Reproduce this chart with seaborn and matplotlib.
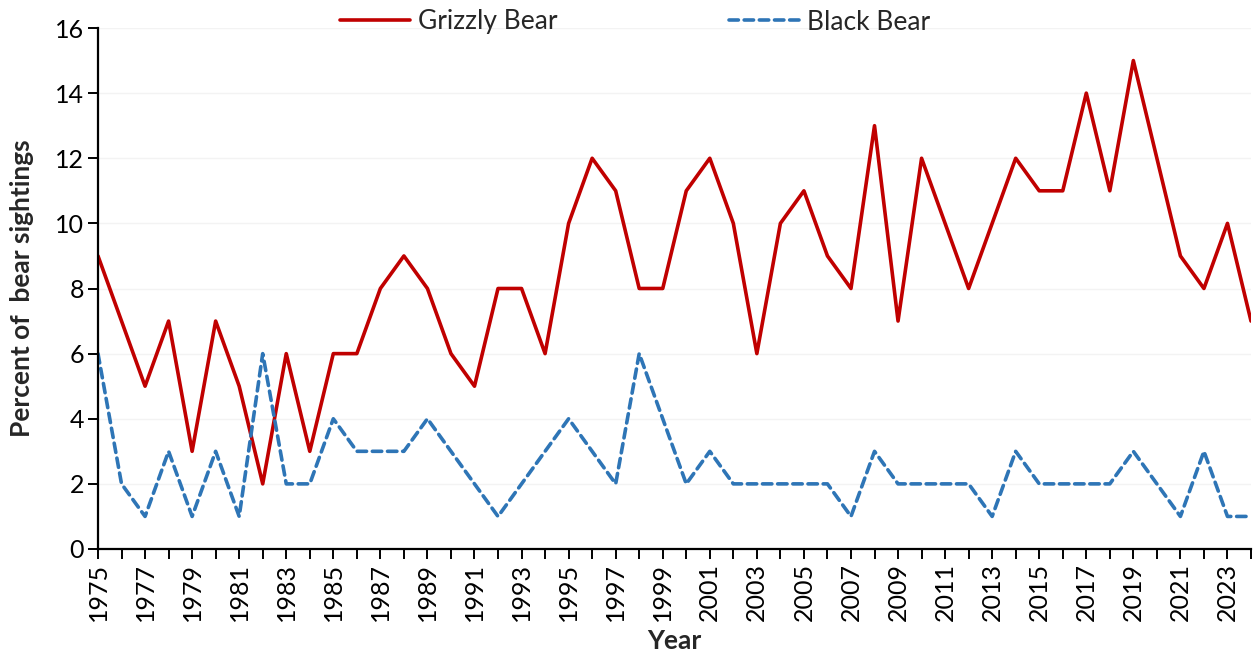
import pandas as pd
import seaborn as sns
import matplotlib.pyplot as plt

# data
years = list(range(1975, 2025))
grizzly = [9, 7, 5, 7, 3, 7, 5, 2, 6, 3,
           6, 6, 8, 9, 8, 6, 5, 8, 8, 6,
           10, 12, 11, 8, 8, 11, 12, 10, 6, 10,
           11, 9, 8, 13, 7, 12, 10, 8, 10, 12,
           11, 11, 14, 11, 15, 12, 9, 8, 10, 7]
black = [6, 2, 1, 3, 1, 3, 1, 6, 2, 2,
         4, 3, 3, 3, 4, 3, 2, 1, 2, 3,
         4, 3, 2, 6, 4, 2, 3, 2, 2, 2,
         2, 2, 1, 3, 2, 2, 2, 2, 1, 3,
         2, 2, 2, 2, 3, 2, 1, 3, 1, 1]
y_ticks = [0, 2, 4, 6, 8, 10, 12, 14, 16]

df = pd.DataFrame({'Year': years, 'Grizzly Bear': grizzly, 'Black Bear': black})

sns.set_theme(style='white')
plt.rcParams['font.family'] = ['Lato', 'DejaVu Sans']

fig = plt.figure(figsize=(12.56, 6.64), dpi=100)
ax = fig.add_axes([98 / 1256, 1 - 549 / 664, (1251 - 98) / 1256, (549 - 28) / 664])

sns.lineplot(data=df, x='Year', y='Grizzly Bear', ax=ax, color='#C00000',
             linewidth=2.6, label='Grizzly Bear')
sns.lineplot(data=df, x='Year', y='Black Bear', ax=ax, color='#2E75B6',
             linewidth=2.6, dashes=False, label='Black Bear')
ax.lines[1].set_dashes((2.6, 1.6))
ax.lines[1].set_dash_capstyle('round')

ax.set_xlim(1975, 2024)
ax.set_ylim(0, 16)
ax.set_yticks(y_ticks)
ax.set_xticks(years)
ax.set_xticklabels([str(y) if (y - 1975) % 2 == 0 else '' for y in years], rotation=90)
ax.tick_params(axis='both', direction='out', length=7, width=1.4, color='black',
               labelsize=18, labelcolor='black', bottom=True, left=True, pad=3)
ax.yaxis.grid(True, color='#f3f3f3', linewidth=1)
ax.set_axisbelow(True)

sns.despine(ax=ax)
for s in ['left', 'bottom']:
    ax.spines[s].set_color('black')
    ax.spines[s].set_linewidth(1.6)

ax.set_xlabel('Year', fontsize=19, fontweight='bold', labelpad=6)
ax.set_ylabel('Percent of  bear sightings', fontsize=19, fontweight='bold', labelpad=15)

ax.get_legend().remove()
h, l = ax.get_legend_handles_labels()
fig.legend(h, l, loc='center', bbox_to_anchor=(635 / 1256, 1 - 22 / 664), ncol=2,
           frameon=False, fontsize=19, handlelength=2.65, handletextpad=0.3,
           columnspacing=6.5)

fig.savefig('out.png', dpi=100)
